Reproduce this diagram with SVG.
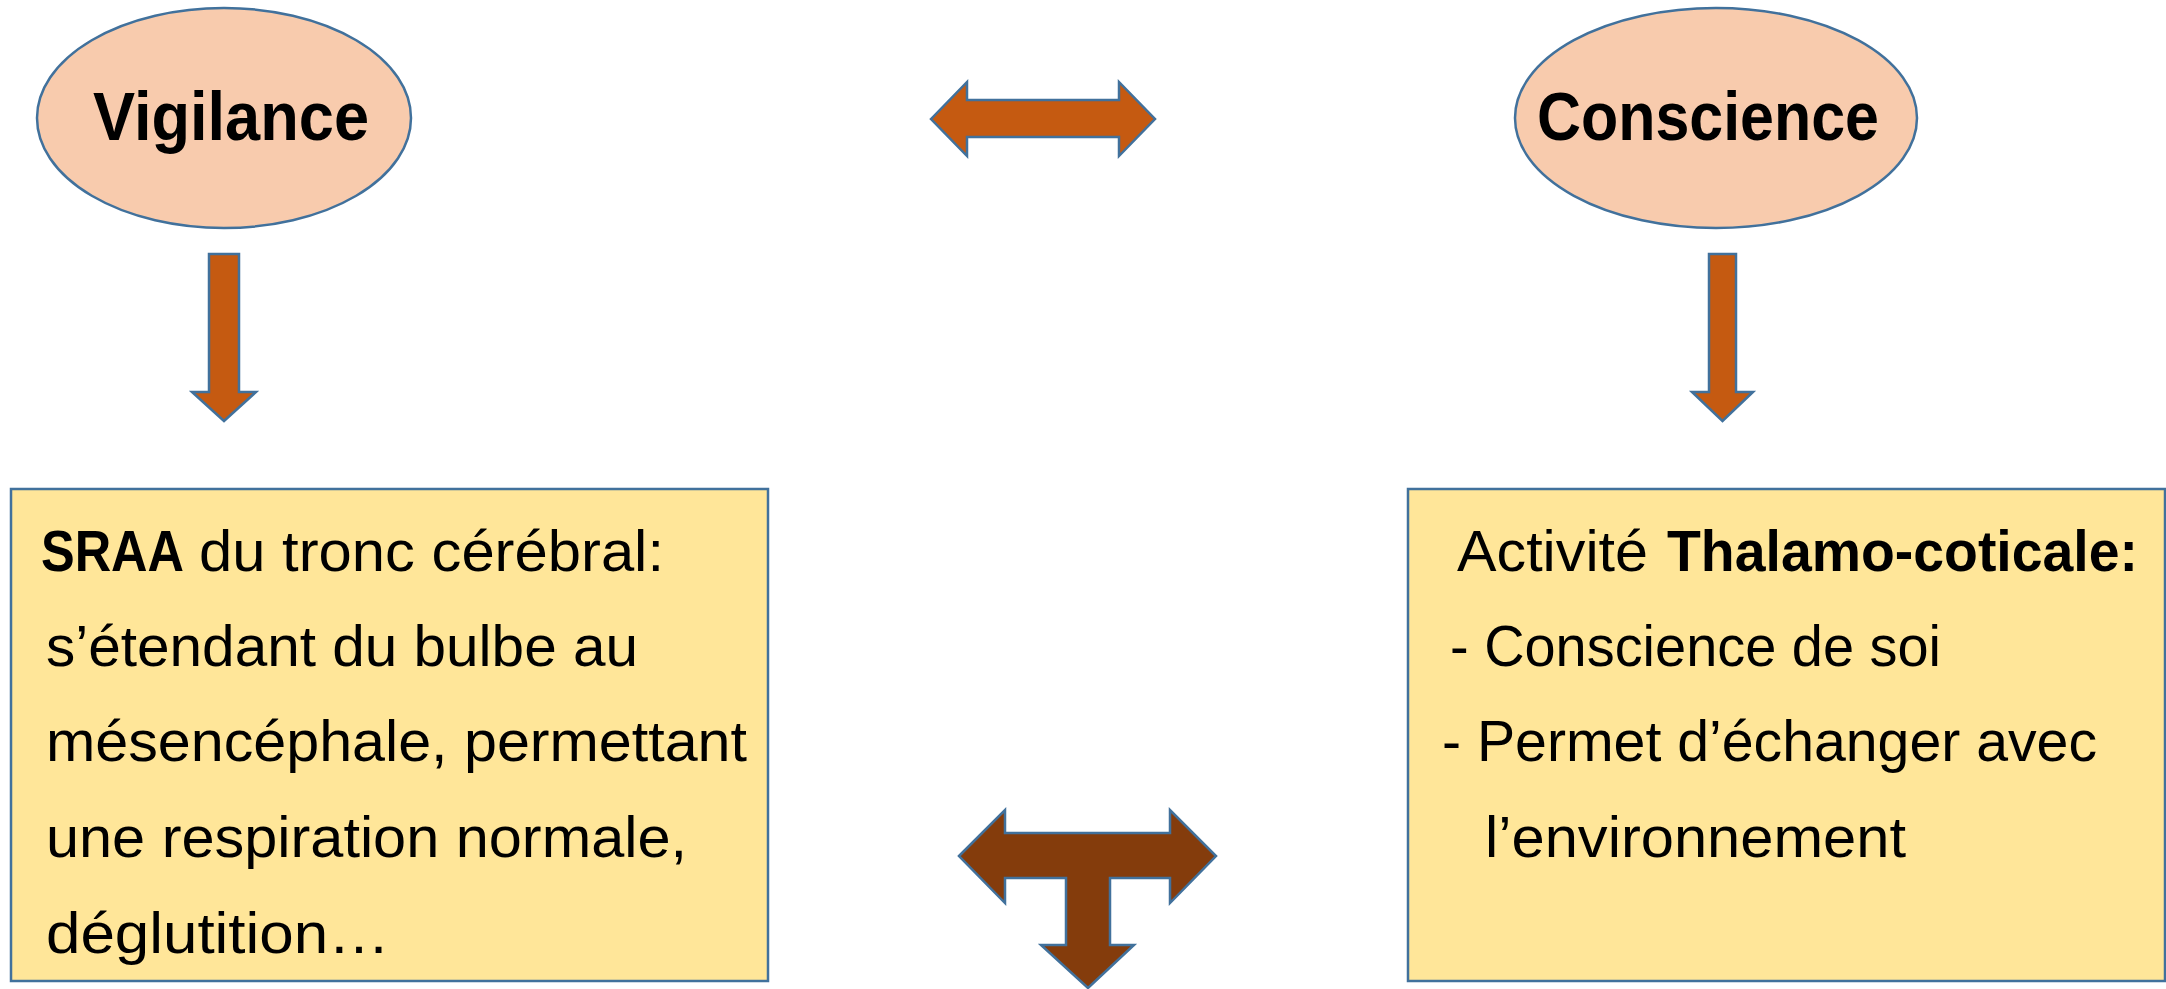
<svg xmlns="http://www.w3.org/2000/svg" width="2166" height="989" viewBox="0 0 2166 989">
<style>
.oval{fill:#F8CBAD;stroke:#41719C;stroke-width:2.5}
.box{fill:#FFE699;stroke:#41719C;stroke-width:2.5}
.arr{fill:#C55A11;stroke:#41719C;stroke-width:2.5;stroke-linejoin:miter}
.tarr{fill:#843C0C;stroke:#41719C;stroke-width:2.5}
.t{font-family:"Liberation Sans",Arial,sans-serif;fill:#000;font-size:57px}
.title{font-family:"Liberation Sans",Arial,sans-serif;fill:#000;font-size:69px;font-weight:bold}
.b{font-weight:bold}
</style>
<rect width="2166" height="989" fill="#fff"/>
<g id="vigilance">
<ellipse class="oval" cx="224" cy="118" rx="187" ry="110"/>
<text class="title" x="93" y="140" textLength="276" lengthAdjust="spacingAndGlyphs">Vigilance</text>
</g>
<g id="conscience">
<ellipse class="oval" cx="1716" cy="118" rx="201" ry="110"/>
<text class="title" x="1537" y="140" textLength="342" lengthAdjust="spacingAndGlyphs">Conscience</text>
</g>
<g id="sraa">
<rect class="box" x="11" y="489" width="757" height="492"/>
<text class="t" y="571"><tspan class="b" x="41" textLength="143" lengthAdjust="spacingAndGlyphs">SRAA</tspan><tspan x="199" textLength="465" lengthAdjust="spacingAndGlyphs">du tronc cérébral:</tspan></text>
<text class="t" x="46" y="666" textLength="592" lengthAdjust="spacingAndGlyphs">s’étendant du bulbe au</text>
<text class="t" x="46" y="761" textLength="701" lengthAdjust="spacingAndGlyphs">mésencéphale, permettant</text>
<text class="t" x="46" y="857" textLength="641" lengthAdjust="spacingAndGlyphs">une respiration normale,</text>
<text class="t" x="46" y="953" textLength="344" lengthAdjust="spacingAndGlyphs">déglutition…</text>
</g>
<g id="thalamo">
<rect class="box" x="1408" y="489" width="757" height="492"/>
<text class="t" y="571"><tspan x="1457" textLength="191" lengthAdjust="spacingAndGlyphs">Activité</tspan><tspan class="b" x="1667" textLength="471" lengthAdjust="spacingAndGlyphs">Thalamo-coticale:</tspan></text>
<text class="t" x="1450" y="666" textLength="491" lengthAdjust="spacingAndGlyphs">- Conscience de soi</text>
<text class="t" x="1442" y="761" textLength="655" lengthAdjust="spacingAndGlyphs">- Permet d’échanger avec</text>
<text class="t" x="1485" y="857" textLength="421" lengthAdjust="spacingAndGlyphs">l’environnement</text>
</g>
<g id="connectors">
<polygon class="arr" points="209,254 239,254 239,392 256,392 224,421 192,392 209,392"/>
<polygon class="arr" points="1709,254 1736,254 1736,392 1753,392 1722.5,421 1692,392 1709,392"/>
<polygon class="arr" points="931,119 967,82 967,100 1119,100 1119,82 1155,119 1119,156 1119,137 967,137 967,156"/>
<polygon class="tarr" points="959,856 1005,810 1005,833 1170,833 1170,810 1216,856 1170,903 1170,878 1110,878 1110,945 1134,945 1088,988 1041,945 1066,945 1066,878 1005,878 1005,903"/>
</g>
</svg>
